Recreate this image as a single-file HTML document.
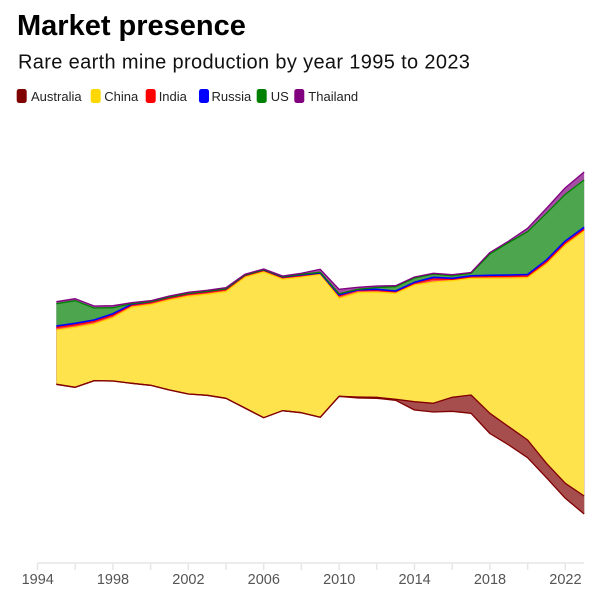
<!DOCTYPE html>
<html><head><meta charset="utf-8"><style>
html,body{margin:0;padding:0;background:#fff;}
svg{display:block;}
text{font-family:"Liberation Sans",sans-serif;}
</style></head><body>
<svg width="600" height="597" viewBox="0 0 600 597" xmlns="http://www.w3.org/2000/svg">
<rect width="600" height="597" fill="#fff"/>
<text x="17" y="35" font-size="29" font-weight="bold" fill="#000">Market presence</text>
<text x="18" y="68.5" font-size="20" letter-spacing="0.35" fill="#111">Rare earth mine production by year 1995 to 2023</text>
<g font-size="13" fill="#222">
<rect x="16.7" y="89" width="10" height="14" rx="2.5" fill="#800000"/><text x="31" y="101">Australia</text>
<rect x="90.7" y="89" width="10" height="14" rx="2.5" fill="#FFD700"/><text x="104.3" y="101">China</text>
<rect x="145.7" y="89" width="10" height="14" rx="2.5" fill="#FF0000"/><text x="158.7" y="101">India</text>
<rect x="199" y="89" width="10" height="14" rx="2.5" fill="#0000FF"/><text x="211.5" y="101">Russia</text>
<rect x="256.7" y="89" width="10" height="14" rx="2.5" fill="#008000"/><text x="270.7" y="101">US</text>
<rect x="294.3" y="89" width="10" height="14" rx="2.5" fill="#800080"/><text x="308.3" y="101">Thailand</text>
</g>
<!-- stacked fills, painted top-down with pre-blended colors -->
<polygon fill="#a64da6" points="56.35,301.7 75.2,298.7 94.05,306 112.9,305.7 131.75,302.7 150.6,300.7 169.45,296 188.3,292.3 207.15,290.3 226,287.7 244.85,274.3 263.7,269 282.55,276 301.4,273.3 320.25,269.3 339.1,289.3 357.95,287.3 376.8,286 395.65,285.7 414.5,277 433.35,273.3 452.2,274.7 471.05,272.5 489.9,252.5 508.75,241 527.6,228.3 546.45,208.3 565.3,187.7 584.15,172 584.15,530 56.35,530"/>
<polygon fill="#4da64d" points="56.35,303.7 75.2,300.7 94.05,308 112.9,307.7 131.75,303.7 150.6,301.7 169.45,297 188.3,293.3 207.15,291.3 226,288.7 244.85,275 263.7,269.7 282.55,276.7 301.4,274.3 320.25,272.3 339.1,293.8 357.95,289.3 376.8,287.5 395.65,286.7 414.5,278 433.35,274.1 452.2,275.7 471.05,273.3 489.9,254 508.75,242.5 527.6,231.7 546.45,213.3 565.3,194.3 584.15,180 584.15,530 56.35,530"/>
<polygon fill="#4d4dff" points="56.35,326 75.2,323.3 94.05,320 112.9,313.7 131.75,304.2 150.6,301.7 169.45,297 188.3,293.3 207.15,291.3 226,288.7 244.85,275 263.7,269.7 282.55,276.9 301.4,274.8 320.25,273 339.1,294.8 357.95,289.8 376.8,289.3 395.65,291 414.5,282.3 433.35,277.3 452.2,278.3 471.05,275.8 489.9,275.3 508.75,275 527.6,274.5 546.45,260 565.3,241 584.15,227.3 584.15,530 56.35,530"/>
<polygon fill="#ff4d4d" points="56.35,327.5 75.2,324.8 94.05,321.5 112.9,315.2 131.75,305.2 150.6,302.7 169.45,298 188.3,294.3 207.15,292.3 226,289.7 244.85,275.8 263.7,270.5 282.55,277.7 301.4,275.6 320.25,273.3 339.1,295.8 357.95,290.3 376.8,290.3 395.65,291.8 414.5,283.3 433.35,279 452.2,279.3 471.05,276.8 489.9,276.5 508.75,276.3 527.6,276 546.45,262 565.3,243 584.15,229.3 584.15,530 56.35,530"/>
<polygon fill="#ffe34d" points="56.35,330 75.2,327.3 94.05,324 112.9,317.7 131.75,307.2 150.6,304.7 169.45,300 188.3,296.3 207.15,294.3 226,291.7 244.85,277.3 263.7,272 282.55,279.2 301.4,277.1 320.25,274.3 339.1,298.3 357.95,292.7 376.8,292.3 395.65,293.3 414.5,285 433.35,282 452.2,280.7 471.05,278.3 489.9,278.3 508.75,278.1 527.6,277.7 546.45,264 565.3,245 584.15,231.2 584.15,530 56.35,530"/>
<polygon fill="#a64d4d" points="56.35,384.3 75.2,387.3 94.05,380.7 112.9,381 131.75,383.3 150.6,385.3 169.45,390 188.3,394 207.15,395.3 226,398.3 244.85,408 263.7,417.7 282.55,410.7 301.4,412.7 320.25,417.3 339.1,396.3 357.95,397 376.8,397.3 395.65,399.3 414.5,401.7 433.35,403.3 452.2,397.3 471.05,395 489.9,413.3 508.75,426.7 527.6,440 546.45,463.3 565.3,483.3 584.15,496 584.15,530 56.35,530"/>
<polygon fill="#fff" points="56.35,384.3 75.2,387.3 94.05,380.7 112.9,381 131.75,383.3 150.6,385.3 169.45,390 188.3,394 207.15,395.3 226,398.3 244.85,408 263.7,417.7 282.55,410.7 301.4,412.7 320.25,417.3 339.1,396.3 357.95,398 376.8,398.3 395.65,400.3 414.5,410 433.35,412 452.2,411.3 471.05,413.3 489.9,433.5 508.75,445 527.6,457.7 546.45,477.7 565.3,498.3 584.15,514 586,514 586,531 54,531 54,384.3"/>
<!-- boundary strokes -->
<g fill="none" stroke-width="1.3" stroke-linejoin="round">
<polyline stroke="#800000" points="56.35,384.3 75.2,387.3 94.05,380.7 112.9,381 131.75,383.3 150.6,385.3 169.45,390 188.3,394 207.15,395.3 226,398.3 244.85,408 263.7,417.7 282.55,410.7 301.4,412.7 320.25,417.3 339.1,396.3 357.95,398 376.8,398.3 395.65,400.3 414.5,410 433.35,412 452.2,411.3 471.05,413.3 489.9,433.5 508.75,445 527.6,457.7 546.45,477.7 565.3,498.3 584.15,514"/>
<polyline stroke="#800000" points="56.35,384.3 75.2,387.3 94.05,380.7 112.9,381 131.75,383.3 150.6,385.3 169.45,390 188.3,394 207.15,395.3 226,398.3 244.85,408 263.7,417.7 282.55,410.7 301.4,412.7 320.25,417.3 339.1,396.3 357.95,397 376.8,397.3 395.65,399.3 414.5,401.7 433.35,403.3 452.2,397.3 471.05,395 489.9,413.3 508.75,426.7 527.6,440 546.45,463.3 565.3,483.3 584.15,496"/>
<polyline stroke="#FFD700" points="56.35,330 75.2,327.3 94.05,324 112.9,317.7 131.75,307.2 150.6,304.7 169.45,300 188.3,296.3 207.15,294.3 226,291.7 244.85,277.3 263.7,272 282.55,279.2 301.4,277.1 320.25,274.3 339.1,298.3 357.95,292.7 376.8,292.3 395.65,293.3 414.5,285 433.35,282 452.2,280.7 471.05,278.3 489.9,278.3 508.75,278.1 527.6,277.7 546.45,264 565.3,245 584.15,231.2"/>
<polyline stroke="#FF0000" points="56.35,327.5 75.2,324.8 94.05,321.5 112.9,315.2 131.75,305.2 150.6,302.7 169.45,298 188.3,294.3 207.15,292.3 226,289.7 244.85,275.8 263.7,270.5 282.55,277.7 301.4,275.6 320.25,273.3 339.1,295.8 357.95,290.3 376.8,290.3 395.65,291.8 414.5,283.3 433.35,279 452.2,279.3 471.05,276.8 489.9,276.5 508.75,276.3 527.6,276 546.45,262 565.3,243 584.15,229.3"/>
<polyline stroke="#0000FF" stroke-width="1.6" points="56.35,326 75.2,323.3 94.05,320 112.9,313.7 131.75,304.2 150.6,301.7 169.45,297 188.3,293.3 207.15,291.3 226,288.7 244.85,275 263.7,269.7 282.55,276.9 301.4,274.8 320.25,273 339.1,294.8 357.95,289.8 376.8,289.3 395.65,291 414.5,282.3 433.35,277.3 452.2,278.3 471.05,275.8 489.9,275.3 508.75,275 527.6,274.5 546.45,260 565.3,241 584.15,227.3"/>
<polyline stroke="#008000" points="56.35,303.7 75.2,300.7 94.05,308 112.9,307.7 131.75,303.7 150.6,301.7 169.45,297 188.3,293.3 207.15,291.3 226,288.7 244.85,275 263.7,269.7 282.55,276.7 301.4,274.3 320.25,272.3 339.1,293.8 357.95,289.3 376.8,287.5 395.65,286.7 414.5,278 433.35,274.1 452.2,275.7 471.05,273.3 489.9,254 508.75,242.5 527.6,231.7 546.45,213.3 565.3,194.3 584.15,180"/>
<polyline stroke="#800080" points="56.35,301.7 75.2,298.7 94.05,306 112.9,305.7 131.75,302.7 150.6,300.7 169.45,296 188.3,292.3 207.15,290.3 226,287.7 244.85,274.3 263.7,269 282.55,276 301.4,273.3 320.25,269.3 339.1,289.3 357.95,287.3 376.8,286 395.65,285.7 414.5,277 433.35,273.3 452.2,274.7 471.05,272.5 489.9,252.5 508.75,241 527.6,228.3 546.45,208.3 565.3,187.7 584.15,172"/>
</g>
<!-- x axis -->
<g stroke="#e6e6e6" stroke-width="1.5">
<line x1="37.5" y1="563" x2="584" y2="563"/>
<line x1="37.5" y1="563" x2="37.5" y2="570"/>
<line x1="75.2" y1="563" x2="75.2" y2="570"/>
<line x1="112.9" y1="563" x2="112.9" y2="570"/>
<line x1="150.6" y1="563" x2="150.6" y2="570"/>
<line x1="188.3" y1="563" x2="188.3" y2="570"/>
<line x1="226" y1="563" x2="226" y2="570"/>
<line x1="263.7" y1="563" x2="263.7" y2="570"/>
<line x1="301.4" y1="563" x2="301.4" y2="570"/>
<line x1="339.1" y1="563" x2="339.1" y2="570"/>
<line x1="376.8" y1="563" x2="376.8" y2="570"/>
<line x1="414.5" y1="563" x2="414.5" y2="570"/>
<line x1="452.2" y1="563" x2="452.2" y2="570"/>
<line x1="489.9" y1="563" x2="489.9" y2="570"/>
<line x1="527.6" y1="563" x2="527.6" y2="570"/>
<line x1="565.3" y1="563" x2="565.3" y2="570"/>
</g>
<g font-size="14.5" fill="#555" text-anchor="middle">
<text x="37.7" y="584">1994</text>
<text x="113" y="584">1998</text>
<text x="188.4" y="584">2002</text>
<text x="263.8" y="584">2006</text>
<text x="339.2" y="584">2010</text>
<text x="414.6" y="584">2014</text>
<text x="490" y="584">2018</text>
<text x="565.4" y="584">2022</text>
</g>
</svg>
</body></html>
